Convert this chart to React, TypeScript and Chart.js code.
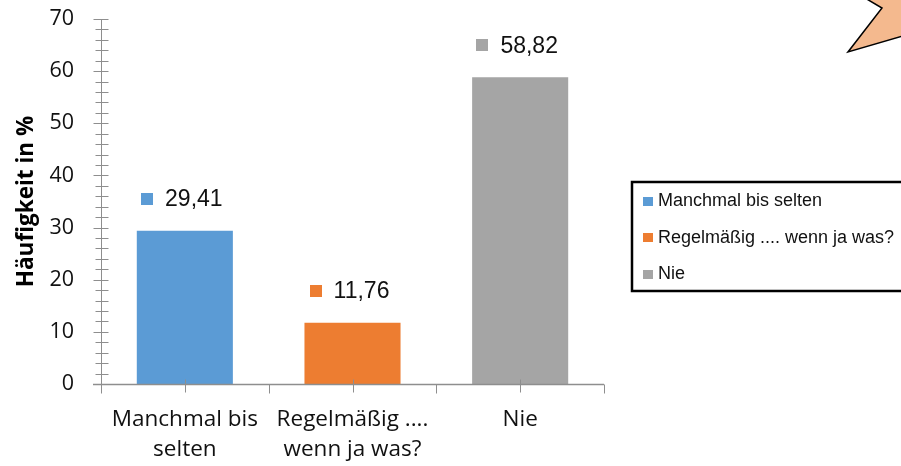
import React, { useEffect, useRef } from "react";
import { Chart, registerables } from "chart.js";

Chart.register(...registerables);

// ---- data ----
const categories: string[][] = [["Manchmal bis", "selten"], ["Regelmäßig ....", "wenn ja was?"], ["Nie"]];
const legendLabels: string[] = ["Manchmal bis selten", "Regelmäßig .... wenn ja was?", "Nie"];
const values: number[] = [29.41, 11.76, 58.82];
const barColors: string[] = ["#5B9BD5", "#ED7D31", "#A5A5A5"];
const yMin = 0;
const yMax = 70;
const yStep = 10;
const yMinorStep = 2;
const yAxisTitle = "Häufigkeit in %";

const AXIS_COLOR = "#8E8E8E";

const axesPlugin = {
  id: "excelAxes",
  afterDatasetsDraw(chart: any) {
    const { ctx, chartArea: ca, scales } = chart;
    const y = scales.y;
    const x = scales.x;
    ctx.save();
    ctx.strokeStyle = AXIS_COLOR;
    ctx.lineWidth = 1;
    const x0 = Math.round(ca.left) + 0.5;
    const yb = Math.round(ca.bottom) + 0.5;
    ctx.beginPath();
    ctx.moveTo(x0, y.getPixelForValue(yMax));
    ctx.lineTo(x0, yb);
    ctx.stroke();
    for (let v = yMin; v <= yMax + 1e-9; v += yMinorStep) {
      const py = Math.round(y.getPixelForValue(v)) + 0.5;
      const major = Math.abs(v % yStep) < 1e-9;
      ctx.beginPath();
      ctx.moveTo(x0 - (major ? 8 : 6), py);
      ctx.lineTo(x0 + 7, py);
      ctx.stroke();
    }
    ctx.lineWidth = 1.5;
    ctx.beginPath();
    ctx.moveTo(ca.left - 8, yb);
    ctx.lineTo(ca.right, yb);
    ctx.stroke();
    ctx.lineWidth = 1;
    const n = categories.length;
    for (let i = 0; i <= n; i++) {
      const px = Math.round(x.getPixelForValue(i - 0.5)) + 0.5;
      ctx.beginPath();
      ctx.moveTo(px, yb);
      ctx.lineTo(px, yb + 9);
      ctx.stroke();
    }
    for (let i = 0; i < n; i++) {
      const px = Math.round(x.getPixelForValue(i)) + 0.5;
      ctx.beginPath();
      ctx.moveTo(px, yb - 5);
      ctx.lineTo(px, yb + 8);
      ctx.stroke();
    }
    ctx.restore();
  },
};

const labelsPlugin = {
  id: "valueLabels",
  afterDatasetsDraw(chart: any) {
    const { ctx } = chart;
    const meta = chart.getDatasetMeta(0);
    const ds = chart.data.datasets[0];
    ctx.save();
    ctx.font = '23px "Liberation Sans", Arial, sans-serif';
    ctx.textBaseline = "middle";
    ctx.textAlign = "left";
    meta.data.forEach((el: any, i: number) => {
      const v = ds.data[i] as number;
      const text = v.toFixed(2).replace(".", ",");
      const tw = ctx.measureText(text).width;
      const group = 12 + 12 + tw;
      const gx = el.x - group / 2 - 3;
      const cy = el.y - 32;
      ctx.fillStyle = (ds.backgroundColor as string[])[i];
      ctx.fillRect(Math.round(gx), Math.round(cy - 6), 12, 12);
      ctx.fillStyle = "#111111";
      ctx.fillText(text, gx + 24, cy + 1);
    });
    ctx.restore();
  },
};

const legendPlugin = {
  id: "boxLegend",
  afterDraw(chart: any) {
    const { ctx, chartArea: ca } = chart;
    const left = ca.right + 28;
    const top = 182;
    const h = 109;
    ctx.save();
    ctx.fillStyle = "#ffffff";
    ctx.fillRect(left, top, chart.width - left + 10, h);
    ctx.strokeStyle = "#000000";
    ctx.lineWidth = 2.5;
    ctx.strokeRect(left, top, chart.width - left + 10, h);
    ctx.font = '18px "Liberation Sans", Arial, sans-serif';
    ctx.textBaseline = "middle";
    ctx.textAlign = "left";
    legendLabels.forEach((lab, i) => {
      const cy = top + 19 + i * 36.5;
      ctx.fillStyle = barColors[i];
      ctx.fillRect(left + 11, Math.round(cy - 4.5), 10, 9);
      ctx.fillStyle = "#111111";
      ctx.fillText(lab, left + 26, cy + 0.5);
    });
    ctx.restore();
  },
};

const calloutPlugin = {
  id: "callout",
  afterDraw(chart: any) {
    const { ctx } = chart;
    const W = chart.width;
    ctx.save();
    ctx.beginPath();
    ctx.moveTo(W - 36, -2);
    ctx.lineTo(W - 19, 8);
    ctx.lineTo(W - 53, 52);
    ctx.lineTo(W + 2, 36);
    ctx.lineTo(W + 2, -2);
    ctx.closePath();
    ctx.fillStyle = "#F4B98E";
    ctx.fill();
    ctx.beginPath();
    ctx.moveTo(W - 36, -2);
    ctx.lineTo(W - 19, 8);
    ctx.lineTo(W - 53, 52);
    ctx.lineTo(W + 2, 36);
    ctx.strokeStyle = "#000000";
    ctx.lineWidth = 1.5;
    ctx.stroke();
    ctx.restore();
  },
};

export default function App() {
  const ref = useRef<HTMLCanvasElement | null>(null);
  useEffect(() => {
    if (!ref.current) return;
    const chart = new Chart(ref.current, {
      type: "bar",
      data: {
        labels: categories,
        datasets: [
          {
            data: values,
            backgroundColor: barColors,
            borderWidth: 0,
            categoryPercentage: 1,
            barPercentage: 0.573,
          },
        ],
      },
      options: {
        animation: false,
        responsive: false,
        events: [],
        layout: { padding: { top: 19, right: 297, left: 0, bottom: 0 } },
        plugins: {
          legend: { display: false },
          tooltip: { enabled: false },
          title: { display: false },
        },
        scales: {
          x: {
            offset: true,
            grid: { display: false, drawTicks: false },
            border: { display: false },
            ticks: {
              color: "#111111",
              font: { family: '"Open Sans", sans-serif', size: 22.5, lineHeight: 1.36 },
              padding: 20,
              maxRotation: 0,
              autoSkip: false,
            },
            afterFit(scale: any) {
              scale.height = 82;
            },
          },
          y: {
            min: yMin,
            max: yMax,
            grid: { display: false, drawTicks: false },
            border: { display: false },
            ticks: {
              stepSize: yStep,
              color: "#111111",
              font: { family: '"Open Sans", sans-serif', size: 21.5 },
              padding: 27,
            },
            title: {
              display: true,
              text: yAxisTitle,
              color: "#000000",
              font: { family: '"Open Sans", sans-serif', size: 22.5, weight: "bold", lineHeight: 1.2 },
              padding: { top: 13, bottom: 0 },
            },
            afterFit(scale: any) {
              scale.width = 101;
              scale.paddingTop = 0;
              scale.paddingBottom = 0;
            },
          },
        },
      },
      plugins: [axesPlugin, labelsPlugin, legendPlugin, calloutPlugin],
    });
    return () => chart.destroy();
  }, []);
  return (
    <div style={{ position: "fixed", left: 0, top: 0, width: 901, height: 466, background: "#ffffff" }}>
      <canvas ref={ref} width={901} height={466} style={{ width: 901, height: 466, display: "block" }} />
    </div>
  );
}
